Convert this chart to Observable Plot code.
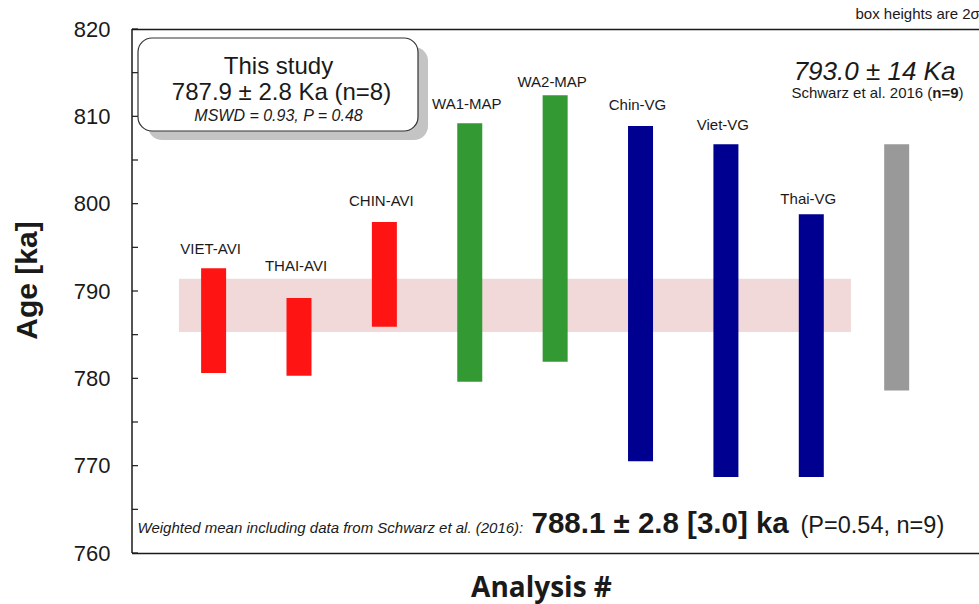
<!DOCTYPE html>
<html><head><meta charset="utf-8">
<script src="https://cdn.jsdelivr.net/npm/d3@7"></script>
<script src="https://cdn.jsdelivr.net/npm/@observablehq/plot@0.6"></script>
<style>
html,body{margin:0;padding:0;background:#fff;}
#chart svg{display:block;overflow:hidden}
</style></head><body><div id="chart"></div>
<script>
// ---- data ----
const analyses  = [1, 2, 3, 4, 5, 6, 7, 8, 9];
const labels    = ["VIET-AVI","THAI-AVI","CHIN-AVI","WA1-MAP","WA2-MAP","Chin-VG","Viet-VG","Thai-VG",""];
const groups    = ["AVI","AVI","AVI","MAP","MAP","VG","VG","VG","Schwarz"];
const ageLow    = [780.6, 780.3, 785.9, 779.6, 781.9, 770.5, 768.7, 768.7, 778.6];
const ageHigh   = [792.6, 789.2, 797.9, 809.2, 812.4, 808.9, 806.8, 798.8, 806.8];
const labelAge  = [794.8, 792.9, 800.3, 811.4, 814.0, 811.3, 809.1, 800.6, null];
const bandLow   = 785.3;   // weighted-mean envelope (ka)
const bandHigh  = 791.4;
const bandFirst = 1, bandLast = 8;
const yTicks      = [760, 770, 780, 790, 800, 810, 820];
const yMinorTicks = [760, 765, 770, 775, 780, 785, 790, 795, 800, 805, 810, 815, 820];
const groupNames  = ["AVI", "MAP", "VG", "Schwarz"];
const groupColors = ["#ff1414", "#339933", "#000090", "#999999"];

const rows = analyses.map((a, i) => ({
  analysis: a, label: labels[i], group: groups[i],
  low: ageLow[i], high: ageHigh[i], labelAge: labelAge[i]
}));

const W = 979, H = 604, ML = 132, MT = 29, MB = 51, MR = 0;
const font = "Liberation Sans, Arial, sans-serif";
const ink = "#1a1a1a";

// annotation helper: pixel position (center, middle) in the SVG
const ann = (str, X, Y, opts = {}) =>
  Plot.text([str], {frameAnchor: "top-left", dx: X - ML, dy: Y - MT, text: d => d, fill: ink,
    textAnchor: "middle", lineAnchor: "middle", ...opts});

function frameAndTicks(index, scales, values, dim) {
  const g = d3.create("svg:g").attr("stroke", ink).attr("fill", "none");
  const yTop = scales.y(820), yBot = scales.y(760);
  g.append("line").attr("x1", dim.marginLeft).attr("x2", dim.marginLeft)
    .attr("y1", yTop).attr("y2", yBot).attr("stroke-width", 1.5);
  for (const t of yMinorTicks) {
    const y = scales.y(t);
    g.append("line").attr("x1", dim.marginLeft).attr("x2", dim.marginLeft + 6)
      .attr("y1", y).attr("y2", y).attr("stroke-width", 1.2);
  }
  return g.node();
}

function studyBox(index, scales, values, dim) {
  const g = d3.create("svg:g");
  const x = dim.marginLeft + 6, y = dim.marginTop + 9, w = 280, h = 93;
  g.append("rect").attr("x", x + 10).attr("y", y + 9).attr("width", w).attr("height", h)
    .attr("rx", 14).attr("fill", "#c4c4c4");
  g.append("rect").attr("x", x).attr("y", y).attr("width", w).attr("height", h)
    .attr("rx", 14).attr("fill", "#fff").attr("stroke", "#333").attr("stroke-width", 1.2);
  return g.node();
}

const chart = Plot.plot({
  width: W, height: H,
  marginLeft: ML, marginTop: MT, marginBottom: MB, marginRight: MR,
  style: {fontFamily: font, background: "#fff", color: ink},
  x: {domain: [0.05, 9.97], axis: null},
  y: {domain: [760, 820], axis: null},
  color: {domain: groupNames, range: groupColors},
  marks: [
    Plot.rect([{x1: bandFirst - 0.4, x2: bandLast + 0.47, y1: bandLow, y2: bandHigh}],
      {x1: "x1", x2: "x2", y1: "y1", y2: "y2", fill: "#f1d9d9"}),
    Plot.ruleX(rows, {x: "analysis", y1: "low", y2: "high", stroke: "group", strokeWidth: 25}),
    Plot.text(rows.filter(d => d.label), {x: "analysis", y: "labelAge", text: "label", dx: -3, fontSize: 15, fill: ink}),
    Plot.ruleY([760, 820], {stroke: ink, strokeWidth: 1.5}),
    frameAndTicks,
    Plot.axisY({ticks: yTicks, tickSize: 0, tickPadding: 22, fontSize: 22, fill: ink, label: null}),
    studyBox,
    ann("This study", 278, 66, {fontSize: 24}),
    ann("787.9 ± 2.8 Ka (n=8)", 281, 92, {fontSize: 24}),
    ann("MSWD = 0.93, P = 0.48", 278, 115, {fontSize: 16, fontStyle: "italic"}),
    ann("793.0 ± 14 Ka", 874, 71, {fontSize: 26, fontStyle: "italic"}),
    ann("Schwarz et al. 2016 (n=9)", 877, 93, {fontSize: 15}),
    ann("box heights are 2σ", 855, 14, {fontSize: 15, textAnchor: "start"}),
    ann("Weighted mean including data from Schwarz et al. (2016):", 137, 528, {fontSize: 15, fontStyle: "italic", textAnchor: "start"}),
    ann("788.1 ± 2.8 [3.0] ka", 531, 523, {fontSize: 29.5, fontWeight: "bold", textAnchor: "start"}),
    ann("(P=0.54, n=9)", 800, 525, {fontSize: 23.5, textAnchor: "start"}),
    ann("Age [ka]", 27, 280, {fontSize: 30, fontWeight: "bold", rotate: -90}),
    ann("Analysis #", 541, 588, {fontSize: 28, fontWeight: "bold", fontFamily: "Open Sans, Liberation Sans, sans-serif"})
  ]
});

// bold "n=9" in the Schwarz reference line
d3.select(chart).selectAll("text").each(function() {
  if (this.textContent === "Schwarz et al. 2016 (n=9)") {
    let el = this;
    while (el.children.length === 1 && el.firstElementChild.textContent === el.textContent) el = el.firstElementChild;
    el.innerHTML = 'Schwarz et al. 2016 (<tspan font-weight="bold">n=9</tspan>)';
  }
});

document.getElementById("chart").appendChild(chart);
</script>
</body></html>
